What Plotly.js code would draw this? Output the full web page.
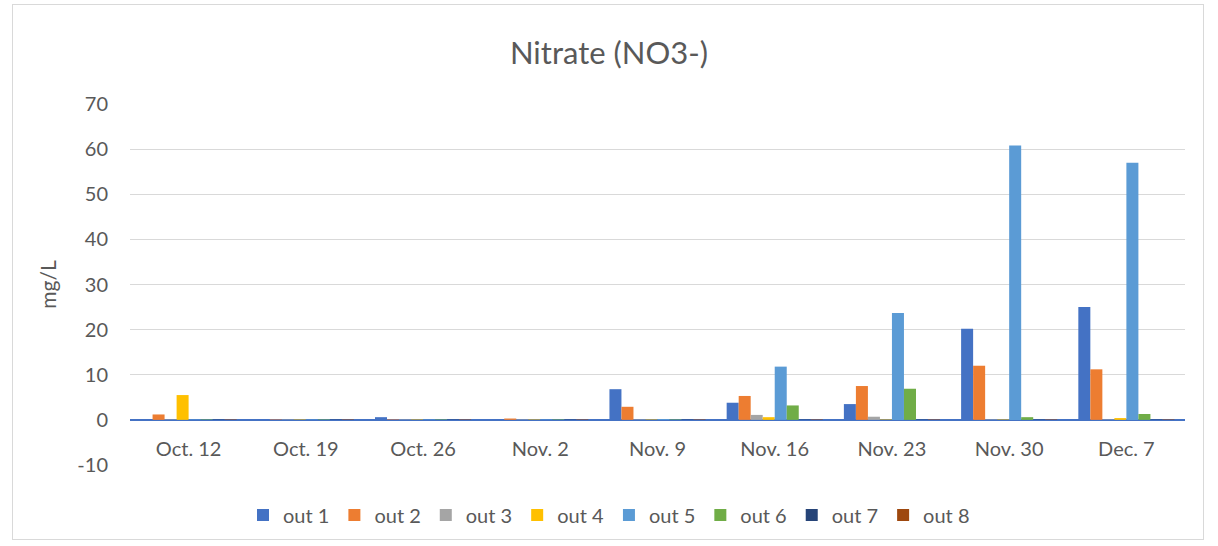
<!DOCTYPE html>
<html>
<head>
<meta charset="utf-8">
<script src="https://cdn.plot.ly/plotly-3.0.1.min.js"></script>
<style>
  html, body { margin: 0; padding: 0; background: #fff; }
  #frame { position: absolute; left: 12px; top: 4px; width: 1192px; height: 536px; border: 1px solid #d9d9d9; box-sizing: border-box; }
  #chart { position: absolute; left: 0; top: 0; width: 1218px; height: 546px; }
</style>
</head>
<body>
<div id="frame"></div>
<div id="chart"></div>
<script>
const categories = ["Oct. 12", "Oct. 19", "Oct. 26", "Nov. 2", "Nov. 9", "Nov. 16", "Nov. 23", "Nov. 30", "Dec. 7"];
const seriesNames = ["out 1", "out 2", "out 3", "out 4", "out 5", "out 6", "out 7", "out 8"];
const out1 = [0.1, 0.1, 0.6, 0.1, 6.8, 3.8, 3.5, 20.2, 25.0];
const out2 = [1.2, 0.1, 0.1, 0.3, 2.9, 5.3, 7.5, 12.0, 11.2];
const out3 = [0.1, 0.1, 0.1, 0.1, 0.1, 1.1, 0.7, 0.1, 0.1];
const out4 = [5.5, 0.1, 0.1, 0.1, 0.1, 0.6, 0.1, 0.1, 0.4];
const out5 = [0.1, 0.1, 0.1, 0.1, 0.2, 11.8, 23.7, 60.8, 57.0];
const out6 = [0.1, 0.1, 0.1, 0.1, 0.1, 3.2, 6.9, 0.6, 1.3];
const out7 = [0.1, 0.1, 0.1, 0.1, 0.1, 0.1, 0.1, 0.1, 0.1];
const out8 = [0.1, 0.1, 0.1, 0.1, 0.1, 0.1, 0.1, 0.1, 0.1];
const yTickVals = [-10, 0, 10, 20, 30, 40, 50, 60, 70];
const yTickText = ["-10", "0", "10", "20", "30", "40", "50", "60", "70"];
const colors = ["#4472C4", "#ED7D31", "#A5A5A5", "#FFC000", "#5B9BD5", "#70AD47", "#264478", "#9E480E"];
const allSeries = [out1, out2, out3, out4, out5, out6, out7, out8];

const font = "Lato, 'Open Sans', 'Liberation Sans', sans-serif";
const traces = allSeries.map((vals, i) => ({
  type: "bar",
  name: seriesNames[i],
  x: categories,
  y: vals,
  marker: { color: colors[i] },
  hoverinfo: "x+y+name"
}));

const layout = {
  width: 1218,
  height: 546,
  paper_bgcolor: "rgba(0,0,0,0)",
  plot_bgcolor: "rgba(0,0,0,0)",
  margin: { l: 130, r: 33, t: 104, b: 81, autoexpand: false },
  title: { text: "Nitrate (NO3-)", font: { family: font, size: 31, color: "#595959" }, x: 0.5, xanchor: "center", y: 0.902, yanchor: "middle" },
  barmode: "group",
  bargap: 0.18,
  bargroupgap: 0,
  showlegend: true,
  legend: { orientation: "h", x: 0.5, xanchor: "center", xref: "container", y: 0.057, yref: "container", yanchor: "middle", font: { family: font, size: 20, color: "#595959" }, itemwidth: 30, tracegroupgap: 0 },
  xaxis: {
    type: "category",
    anchor: "free",
    position: 0.1247,
    showline: false,
    showgrid: false,
    ticks: "",
    automargin: false,
    ticklabelstandoff: 15,
    tickfont: { family: font, size: 20, color: "#595959" },
    fixedrange: true
  },
  yaxis: {
    range: [-10, 70],
    tickmode: "array",
    tickvals: yTickVals,
    ticktext: yTickText,
    showgrid: true,
    gridcolor: "#d9d9d9",
    gridwidth: 1,
    zeroline: true,
    zerolinecolor: "#4472C4",
    zerolinewidth: 2,
    showline: false,
    ticks: "",
    automargin: false,
    ticklabelstandoff: 21,
    tickfont: { family: font, size: 20, color: "#595959" },
    title: { text: "mg/L", font: { family: font, size: 21, color: "#595959" }, standoff: 15 },
    fixedrange: true
  }
};

Plotly.newPlot("chart", traces, layout, { displayModeBar: false, staticPlot: true });
</script>
</body>
</html>
